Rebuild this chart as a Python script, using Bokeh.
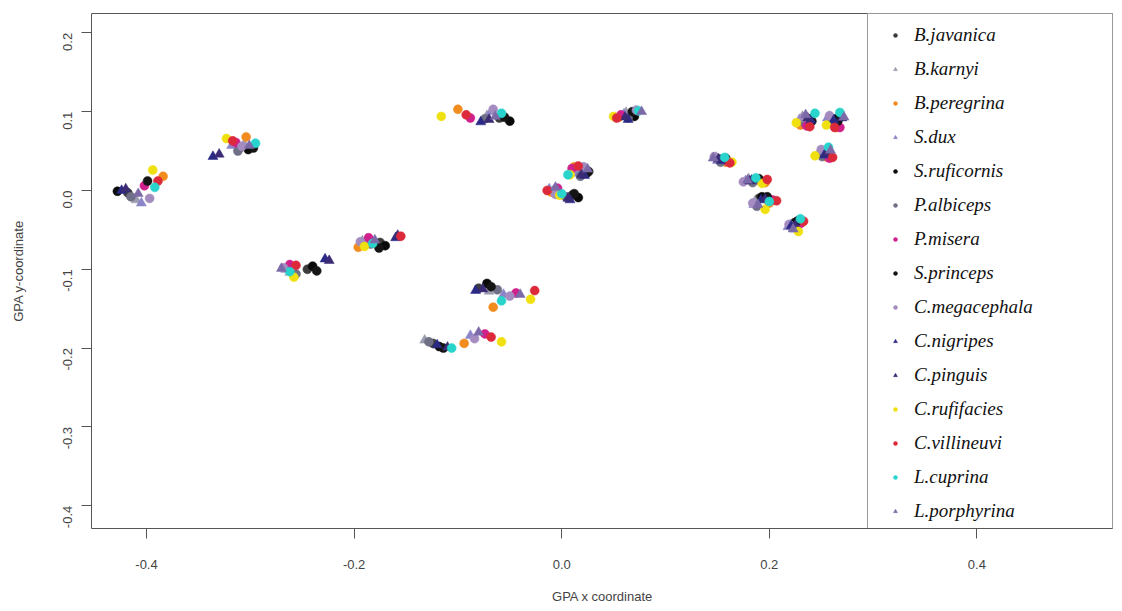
import math
from bokeh.plotting import figure
from bokeh.models import (ColumnDataSource, FixedTicker, PrintfTickFormatter,
                          Legend, LegendItem, Title, Range1d)
from bokeh.embed import file_html
from bokeh.resources import INLINE

# ---------------- data ----------------
species = ["B.javanica", "B.karnyi", "B.peregrina", "S.dux", "S.ruficornis",
           "P.albiceps", "P.misera", "S.princeps", "C.megacephala", "C.nigripes",
           "C.pinguis", "C.rufifacies", "C.villineuvi", "L.cuprina", "L.porphyrina"]
colors = ["#3c3c3c", "#9c9cb0", "#f28c1e", "#8b84c8", "#0a0a0a",
          "#6f6f86", "#d0208c", "#151515", "#a48cc0", "#2a2a86",
          "#3b2b74", "#f0e010", "#dc2a3a", "#28d4cc", "#7c6aa8"]
markers = ["circle", "triangle", "circle", "triangle", "circle",
           "circle", "circle", "circle", "circle", "triangle",
           "triangle", "circle", "circle", "circle", "triangle"]

# landmark clusters: one value per species (order as in `species`)
lm_a_x = [-0.418, -0.410, -0.384, -0.405, -0.428, -0.415, -0.402, -0.399, -0.397, -0.424, -0.420, -0.394, -0.389, -0.392, -0.408]
lm_a_y = [-0.003, -0.012, 0.018, -0.016, -0.001, -0.008, 0.006, 0.012, -0.010, 0.000, 0.002, 0.026, 0.012, 0.004, -0.004]
lm_b_x = [-0.311, -0.306, -0.304, -0.318, -0.302, -0.312, -0.314, -0.297, -0.308, -0.336, -0.330, -0.323, -0.317, -0.295, -0.301]
lm_b_y = [0.053, 0.059, 0.068, 0.057, 0.052, 0.050, 0.061, 0.054, 0.056, 0.043, 0.046, 0.066, 0.063, 0.060, 0.057]
lm_c_x = [-0.245, -0.262, -0.258, -0.266, -0.240, -0.256, -0.262, -0.236, -0.268, -0.228, -0.224, -0.258, -0.256, -0.262, -0.270]
lm_c_y = [-0.100, -0.104, -0.108, -0.100, -0.096, -0.106, -0.094, -0.102, -0.098, -0.087, -0.089, -0.110, -0.095, -0.103, -0.099]
lm_d_x = [-0.175, -0.192, -0.196, -0.188, -0.170, -0.184, -0.186, -0.176, -0.194, -0.160, -0.158, -0.190, -0.155, -0.182, -0.180]
lm_d_y = [-0.066, -0.064, -0.072, -0.062, -0.070, -0.068, -0.060, -0.073, -0.065, -0.060, -0.057, -0.071, -0.058, -0.067, -0.063]
lm_e_x = [-0.060, -0.072, -0.100, -0.068, -0.050, -0.074, -0.088, -0.055, -0.066, -0.078, -0.070, -0.116, -0.092, -0.058, -0.064]
lm_e_y = [0.092, 0.095, 0.103, 0.100, 0.088, 0.091, 0.092, 0.093, 0.103, 0.087, 0.090, 0.094, 0.096, 0.098, 0.094]
lm_f_x = [0.066, 0.062, 0.055, 0.060, 0.070, 0.064, 0.057, 0.068, 0.072, 0.064, 0.061, 0.050, 0.053, 0.074, 0.077]
lm_f_y = [0.095, 0.099, 0.093, 0.097, 0.094, 0.092, 0.096, 0.100, 0.102, 0.090, 0.093, 0.094, 0.092, 0.101, 0.100]
lm_g_x = [0.020, 0.014, 0.012, 0.016, 0.024, 0.018, 0.010, 0.026, 0.021, 0.022, 0.019, 0.008, 0.016, 0.006, 0.025]
lm_g_y = [0.024, 0.026, 0.030, 0.022, 0.022, 0.018, 0.028, 0.024, 0.030, 0.019, 0.020, 0.020, 0.031, 0.020, 0.027]
lm_h_x = [0.010, -0.008, -0.010, -0.012, 0.016, 0.004, -0.004, 0.012, -0.006, 0.008, 0.006, -0.002, -0.014, 0.000, -0.006]
lm_h_y = [-0.006, 0.000, -0.002, 0.002, -0.009, -0.008, 0.003, -0.004, -0.005, -0.012, -0.010, -0.006, 0.000, -0.004, 0.004]
lm_i_x = [-0.080, -0.070, -0.066, -0.056, -0.072, -0.062, -0.044, -0.068, -0.050, -0.083, -0.076, -0.030, -0.026, -0.058, -0.040]
lm_i_y = [-0.124, -0.128, -0.148, -0.132, -0.118, -0.126, -0.130, -0.122, -0.134, -0.127, -0.125, -0.138, -0.127, -0.140, -0.132]
lm_j_x = [-0.124, -0.132, -0.094, -0.088, -0.118, -0.128, -0.074, -0.114, -0.084, -0.120, -0.110, -0.058, -0.068, -0.106, -0.080]
lm_j_y = [-0.194, -0.190, -0.194, -0.184, -0.198, -0.192, -0.182, -0.200, -0.188, -0.196, -0.199, -0.192, -0.186, -0.200, -0.180]
lm_k_x = [0.236, 0.232, 0.230, 0.229, 0.238, 0.234, 0.236, 0.241, 0.233, 0.240, 0.237, 0.226, 0.239, 0.244, 0.235]
lm_k_y = [0.090, 0.094, 0.083, 0.090, 0.091, 0.086, 0.082, 0.088, 0.093, 0.089, 0.092, 0.086, 0.081, 0.098, 0.096]
lm_l_x = [0.262, 0.258, 0.265, 0.256, 0.264, 0.260, 0.268, 0.266, 0.258, 0.262, 0.270, 0.255, 0.263, 0.268, 0.272]
lm_l_y = [0.090, 0.094, 0.080, 0.092, 0.091, 0.086, 0.080, 0.088, 0.095, 0.089, 0.092, 0.083, 0.080, 0.099, 0.093]
lm_m_x = [0.252, 0.249, 0.256, 0.248, 0.254, 0.251, 0.258, 0.255, 0.250, 0.253, 0.256, 0.244, 0.261, 0.257, 0.259]
lm_m_y = [0.047, 0.050, 0.042, 0.048, 0.046, 0.043, 0.041, 0.049, 0.052, 0.045, 0.048, 0.044, 0.042, 0.055, 0.051]
lm_n_x = [0.152, 0.149, 0.158, 0.150, 0.156, 0.153, 0.160, 0.158, 0.147, 0.154, 0.151, 0.164, 0.162, 0.157, 0.146]
lm_n_y = [0.040, 0.042, 0.036, 0.038, 0.039, 0.036, 0.037, 0.041, 0.043, 0.038, 0.040, 0.036, 0.035, 0.042, 0.041]
lm_o_x = [0.186, 0.180, 0.196, 0.177, 0.188, 0.184, 0.192, 0.190, 0.175, 0.183, 0.181, 0.193, 0.198, 0.187, 0.179]
lm_o_y = [0.013, 0.015, 0.010, 0.012, 0.014, 0.010, 0.012, 0.015, 0.011, 0.013, 0.012, 0.009, 0.014, 0.016, 0.013]
lm_p_x = [0.190, 0.186, 0.200, 0.185, 0.193, 0.188, 0.203, 0.198, 0.184, 0.192, 0.196, 0.196, 0.207, 0.200, 0.189]
lm_p_y = [-0.010, -0.014, -0.016, -0.018, -0.008, -0.020, -0.012, -0.008, -0.016, -0.012, -0.011, -0.024, -0.013, -0.014, -0.018]
lm_q_x = [0.224, 0.220, 0.232, 0.218, 0.226, 0.222, 0.230, 0.228, 0.219, 0.221, 0.225, 0.228, 0.233, 0.230, 0.223]
lm_q_y = [-0.041, -0.044, -0.040, -0.046, -0.040, -0.047, -0.042, -0.038, -0.043, -0.045, -0.044, -0.052, -0.039, -0.036, -0.049]

x_ticks = [-0.4, -0.2, 0.0, 0.2, 0.4]
y_ticks = [0.2, 0.1, 0.0, -0.1, -0.2, -0.3, -0.4]

landmarks_x = [lm_a_x, lm_b_x, lm_c_x, lm_d_x, lm_e_x, lm_f_x, lm_g_x, lm_h_x, lm_i_x,
               lm_j_x, lm_k_x, lm_l_x, lm_m_x, lm_n_x, lm_o_x, lm_p_x, lm_q_x]
landmarks_y = [lm_a_y, lm_b_y, lm_c_y, lm_d_y, lm_e_y, lm_f_y, lm_g_y, lm_h_y, lm_i_y,
               lm_j_y, lm_k_y, lm_l_y, lm_m_y, lm_n_y, lm_o_y, lm_p_y, lm_q_y]

# ---------------- figure ----------------
p = figure(output_backend="svg", toolbar_location=None,
           frame_width=1022, frame_height=515,
           min_border_left=91, min_border_right=0,
           min_border_top=13, min_border_bottom=82,
           x_range=Range1d(-0.453, 0.5316), y_range=Range1d(-0.4289, 0.2246))
p.background_fill_color = "white"
p.border_fill_color = "white"
p.outline_line_color = "#555555"
p.outline_line_width = 1
p.grid.visible = False

items = []
for i, sp in enumerate(species):
    src = ColumnDataSource(dict(x=[lm[i] for lm in landmarks_x],
                                y=[lm[i] for lm in landmarks_y]))
    sz = 10 if markers[i] == "triangle" else 9
    r = p.scatter("x", "y", source=src, marker=markers[i], size=sz,
                  fill_color=colors[i], line_color=colors[i], line_width=0.5)
    items.append(LegendItem(label=sp, renderers=[r]))

legend = Legend(items=items, location="top_right", margin=0, padding=10,
                spacing=12, label_height=22, glyph_height=10, glyph_width=34,
                label_standoff=2, label_width=188,
                label_text_font="Liberation Serif", label_text_font_style="italic",
                label_text_font_size="19px", label_text_color="#111111",
                border_line_color="#333333", border_line_width=1,
                background_fill_color="white", background_fill_alpha=1.0)
p.add_layout(legend)

for ax in (p.xaxis[0], p.yaxis[0]):
    ax.axis_line_color = None
    ax.major_tick_line_color = "#555555"
    ax.major_tick_out = 10
    ax.major_tick_in = 0
    ax.minor_tick_line_color = None
    ax.major_label_text_font = "Liberation Sans"
    ax.major_label_text_font_size = "13px"
    ax.major_label_text_color = "#444444"
    ax.formatter = PrintfTickFormatter(format="%.1f")

p.xaxis.ticker = FixedTicker(ticks=x_ticks)
p.yaxis.ticker = FixedTicker(ticks=y_ticks)
p.xaxis.major_label_standoff = 21
p.yaxis.major_label_standoff = 14
p.yaxis.major_label_orientation = math.pi / 2

p.yaxis.axis_label = "GPA y-coordinate"
p.yaxis.axis_label_text_font = "Liberation Sans"
p.yaxis.axis_label_text_font_size = "13px"
p.yaxis.axis_label_text_font_style = "normal"
p.yaxis.axis_label_text_color = "#444444"
p.yaxis.axis_label_standoff = 30

xt = Title(text="GPA x coordinate", align="center", offset=-88, standoff=30,
           text_font="Liberation Sans", text_font_size="13px",
           text_font_style="normal", text_color="#444444")
p.add_layout(xt, "below")

open("out.html", "w").write(file_html(p, INLINE))
